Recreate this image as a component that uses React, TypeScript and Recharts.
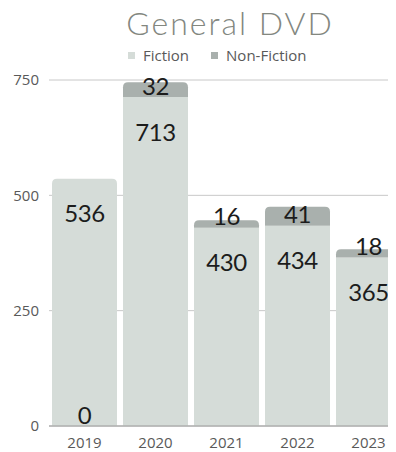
import React from 'react';
import { BarChart, Bar, XAxis, YAxis, CartesianGrid, Legend, LabelList } from 'recharts';

// Annual circulation of the general DVD collection
const YEARS = ['2019', '2020', '2021', '2022', '2023'];
const FICTION = [536, 713, 430, 434, 365];
const NON_FICTION = [0, 32, 16, 41, 18];
const Y_TICKS = [0, 250, 500, 750];

const TITLE = 'General DVD';
const SERIES_NAMES = { fiction: 'Fiction', nonFiction: 'Non-Fiction' };

const COLORS = {
  fiction: '#d5dcd8',
  nonFiction: '#a9b0ad',
  title: '#83877f',
  axisText: '#595959',
  grid: '#c8c8c8',
  axis: '#9a9a9a',
  label: '#1c1c1c',
};

const CHART_W = 404;
const CHART_H = 452;
const MARGIN = { top: 80, right: 0, bottom: 0, left: 0 };
const XAXIS_H = 26;
const YAXIS_W = 49;
const PLOT_BOTTOM = CHART_H - MARGIN.bottom - XAXIS_H;

const UI_FONT = '"Open Sans", sans-serif';
const DISPLAY_FONT = 'Lato, sans-serif';

const rows = YEARS.map((year, i) => ({
  year,
  fiction: FICTION[i],
  nonFiction: NON_FICTION[i],
}));

// Rectangle with rounded top corners (r = 0 gives a plain rectangle)
function topRoundedPath(x: number, y: number, w: number, h: number, r: number) {
  const rr = Math.max(0, Math.min(r, w / 2, h));
  return [
    `M${x},${y + h}`,
    `L${x},${y + rr}`,
    `Q${x},${y} ${x + rr},${y}`,
    `L${x + w - rr},${y}`,
    `Q${x + w},${y} ${x + w},${y + rr}`,
    `L${x + w},${y + h}`,
    'Z',
  ].join(' ');
}

function FictionShape(props: any) {
  const { x, y, width, height, fill, payload } = props;
  if (!height || height <= 0) return null;
  const r = payload && payload.nonFiction === 0 ? 5 : 0;
  return <path d={topRoundedPath(x, y, width, height, r)} fill={fill} />;
}

function NonFictionShape(props: any) {
  const { x, y, width, height, fill } = props;
  if (!height || height <= 0) return null;
  return <path d={topRoundedPath(x, y, width, height, 5)} fill={fill} />;
}

function boxOf(p: any) {
  const vb = p.viewBox || p;
  return { x: Number(vb.x), y: Number(vb.y), width: Number(vb.width), height: Number(vb.height) };
}

const valueTextProps = {
  textAnchor: 'middle' as const,
  dominantBaseline: 'central' as const,
  fontFamily: DISPLAY_FONT,
  fontSize: 24,
  letterSpacing: -0.5,
  fill: COLORS.label,
};

// Fiction value sits a little below the top of its segment
function FictionLabel(p: any) {
  const { x, y, width } = boxOf(p);
  return (
    <text x={x + width / 2} y={y + 34} {...valueTextProps}>
      {p.value}
    </text>
  );
}

// Non-fiction value sits just above the base of its segment; empty segments sit on the axis
function NonFictionLabel(p: any) {
  const { x, y, width, height } = boxOf(p);
  const base = Number(p.value) === 0 ? PLOT_BOTTOM : y + height;
  return (
    <text x={x + width / 2} y={base - 12} {...valueTextProps}>
      {p.value}
    </text>
  );
}

function LegendContent() {
  const items = [
    { name: SERIES_NAMES.fiction, color: COLORS.fiction },
    { name: SERIES_NAMES.nonFiction, color: COLORS.nonFiction },
  ];
  return (
    <div style={{ display: 'flex', alignItems: 'center', fontFamily: UI_FONT, fontSize: 15, lineHeight: '20px', color: COLORS.axisText, whiteSpace: 'nowrap' }}>
      {items.map((it, i) => (
        <div key={it.name} style={{ display: 'flex', alignItems: 'center', marginLeft: i === 0 ? 0 : 22 }}>
          <span style={{ display: 'inline-block', width: 7, height: 7, background: it.color, marginRight: 8, marginTop: 1 }} />
          <span>{it.name}</span>
        </div>
      ))}
    </div>
  );
}

export default function App() {
  return (
    <div style={{ position: 'relative', margin: '-8px 0 0 -8px', width: 396, height: CHART_H, overflow: 'hidden' }}>
      <BarChart
        width={CHART_W}
        height={CHART_H}
        data={rows}
        margin={MARGIN}
        barCategoryGap={3}
      >
        <text
          x={230}
          y={35}
          textAnchor="middle"
          fontFamily={DISPLAY_FONT}
          fontWeight={300}
          fontSize={32}
          letterSpacing={2}
          fill={COLORS.title}
        >
          {TITLE}
        </text>
        <CartesianGrid vertical={false} stroke={COLORS.grid} />
        <XAxis
          dataKey="year"
          height={XAXIS_H}
          tickLine={false}
          tickSize={0}
          tickMargin={11}
          axisLine={{ stroke: COLORS.axis }}
          tick={{ fill: COLORS.axisText, fontSize: 15, fontFamily: UI_FONT }}
        />
        <YAxis
          width={YAXIS_W}
          domain={[0, 750]}
          ticks={Y_TICKS}
          axisLine={false}
          tickLine={false}
          tickSize={0}
          tickMargin={10}
          tick={{ fill: COLORS.axisText, fontSize: 15, fontFamily: UI_FONT }}
        />
        <Legend
          layout="horizontal"
          verticalAlign="middle"
          align="center"
          wrapperStyle={{ top: 45, left: 128, width: 240 }}
          content={<LegendContent />}
        />
        <Bar
          dataKey="fiction"
          name={SERIES_NAMES.fiction}
          stackId="dvd"
          fill={COLORS.fiction}
          shape={<FictionShape />}
          isAnimationActive={false}
        >
          <LabelList dataKey="fiction" content={<FictionLabel />} />
        </Bar>
        <Bar
          dataKey="nonFiction"
          name={SERIES_NAMES.nonFiction}
          stackId="dvd"
          fill={COLORS.nonFiction}
          shape={<NonFictionShape />}
          isAnimationActive={false}
        >
          <LabelList dataKey="nonFiction" content={<NonFictionLabel />} />
        </Bar>
      </BarChart>
    </div>
  );
}
